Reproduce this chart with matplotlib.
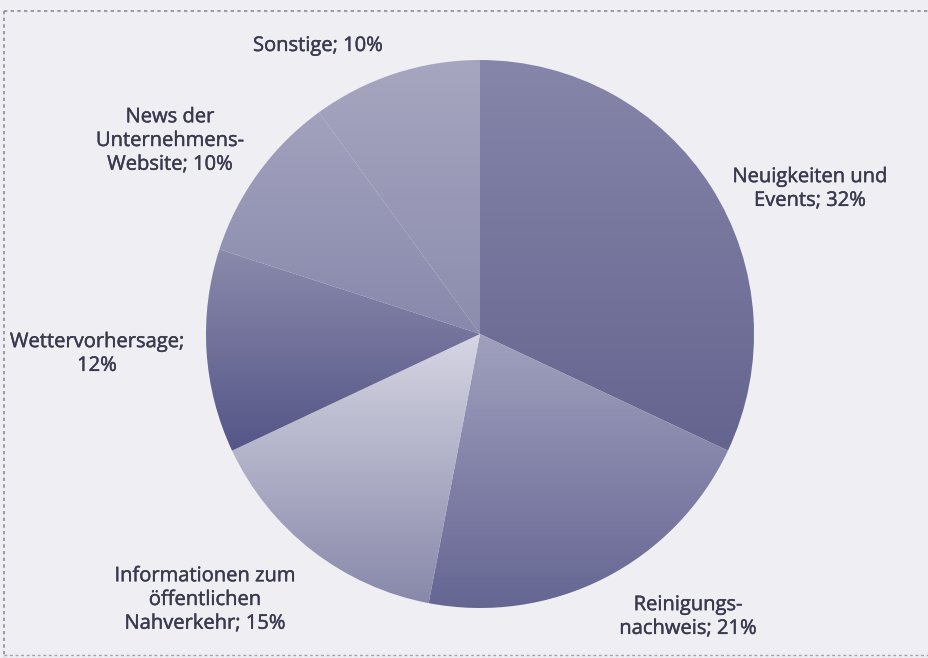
import numpy as np
import matplotlib
matplotlib.use("Agg")
from matplotlib import pyplot as plt
from matplotlib.colors import LinearSegmentedColormap
import matplotlib.patheffects as pe

# data, clockwise from 12 o'clock
labels = ["Neuigkeiten und\nEvents; 32%",
          "Reinigungs-\nnachweis; 21%",
          "Informationen zum\nöffentlichen\nNahverkehr; 15%",
          "Wettervorhersage;\n12%",
          "News der\nUnternehmens-\nWebsite; 10%",
          "Sonstige; 10%"]
shares = [32, 21, 15, 12, 10, 10]

# (top colour, bottom colour) per slice - printed gradient
grads = [("#8686aa", "#64648f"),
         ("#a0a0be", "#646492"),
         ("#d6d6e4", "#8888aa"),
         ("#8a8aac", "#555588"),
         ("#a2a2be", "#8888ac"),
         ("#a6a6c0", "#8c8cae")]

# label centres in pixel coords (x from left, y from top)
label_pos = [(810, 189), (688, 617), (205, 600), (97, 354), (170, 141), (318, 46)]

W, H = 929, 658
cx, cy, R = 480, 334, 274

plt.rcParams['font.family'] = ['Open Sans', 'DejaVu Sans']

fig = plt.figure(figsize=(W / 100, H / 100), dpi=100, facecolor="#eeeef3")
ax = fig.add_axes([0, 0, 1, 1])
ax.set_facecolor("#eeeef3")

wedges, _ = ax.pie(shares, startangle=90, counterclock=False, radius=R,
                   center=(cx, H - cy), wedgeprops=dict(linewidth=0))

grad = np.linspace(0, 1, 256).reshape(-1, 1)
for w, (ctop, cbot) in zip(wedges, grads):
    w.set_facecolor("none")
    v = w.get_path().vertices
    cmap = LinearSegmentedColormap.from_list("g", [cbot, ctop])
    im = ax.imshow(grad, extent=(v[:, 0].min(), v[:, 0].max(), v[:, 1].min(), v[:, 1].max()),
                   origin="lower", cmap=cmap, aspect="auto", zorder=2, interpolation="bilinear")
    im.set_clip_path(w)

for txt, (x, y) in zip(labels, label_pos):
    ax.text(x, H - y, txt, ha="center", va="center", fontsize=14.5,
            color="#3a3a4f", linespacing=1.25, zorder=5,
            path_effects=[pe.withStroke(linewidth=0.3, foreground="#3a3a4f")])

# dotted frame of the printed box
ax.plot([4, W], [H - 11, H - 11], ls=(0, (2, 2)), color="#8a8a9a", lw=1.2)
ax.plot([4, 4], [H - 11, 0], ls=(0, (2, 2)), color="#8a8a9a", lw=1.2)
ax.plot([4, W], [3, 3], ls=(0, (2, 2)), color="#a0a0ae", lw=1.0)

ax.set_xlim(0, W)
ax.set_ylim(0, H)
ax.set_aspect("auto")
ax.axis("off")

fig.savefig("out.png", dpi=100, facecolor=fig.get_facecolor())
